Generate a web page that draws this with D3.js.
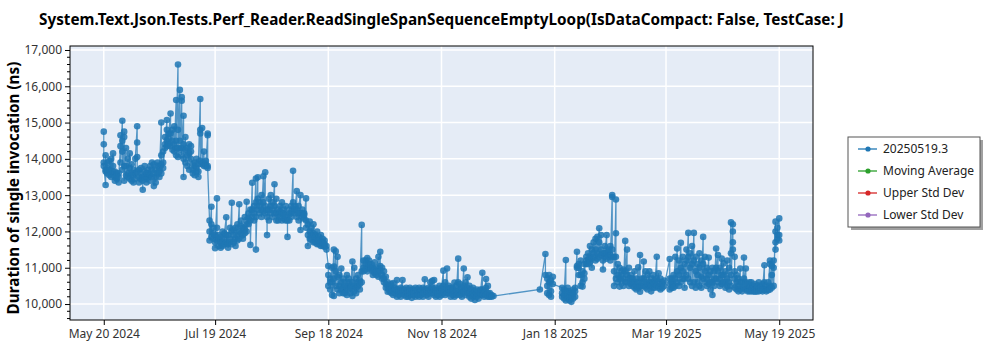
<!DOCTYPE html>
<html>
<head>
<meta charset="utf-8">
<script src="https://cdn.jsdelivr.net/npm/d3@7"></script>
<style>
  body { margin: 0; background: #fff; }
  svg { display: block; font-family: "Segoe UI", "Noto Sans", "Open Sans", sans-serif; }
</style>
</head>
<body>
<svg id="chart" width="1000" height="350"></svg>
<script>
// ---- chart text ----
const chartTitle = "System.Text.Json.Tests.Perf_Reader.ReadSingleSpanSequenceEmptyLoop(IsDataCompact: False, TestCase: J";
const yAxisTitle = "Duration of single invocation (ns)";

// ---- axis ticks ----
const xTickDates = ["2024-05-20", "2024-07-19", "2024-09-18", "2024-11-18", "2025-01-18", "2025-03-19", "2025-05-19"];
const yTickValues = [10000, 11000, 12000, 13000, 14000, 15000, 16000, 17000];

// ---- legend ----
const legendLabels = ["20250519.3", "Moving Average", "Upper Std Dev", "Lower Std Dev"];
const legendColors = ["#1f77b4", "#2ca02c", "#d62728", "#9467bd"];

// ---- run dates (one entry per day that has measurements) ----
const runDates = [
  // May 2024
  "2024-05-20","2024-05-21","2024-05-22","2024-05-23","2024-05-24","2024-05-25","2024-05-26","2024-05-27","2024-05-28","2024-05-29","2024-05-30","2024-05-31",
  // Jun 2024
  "2024-06-01","2024-06-02","2024-06-03","2024-06-04","2024-06-05","2024-06-06","2024-06-07","2024-06-08","2024-06-09","2024-06-10",
  "2024-06-11","2024-06-12","2024-06-13","2024-06-14","2024-06-15","2024-06-16","2024-06-17","2024-06-18","2024-06-19","2024-06-20",
  "2024-06-21","2024-06-22","2024-06-23","2024-06-24","2024-06-25","2024-06-26","2024-06-27","2024-06-28","2024-06-29","2024-06-30",
  // Jul 2024
  "2024-07-01","2024-07-02","2024-07-03","2024-07-04","2024-07-05","2024-07-06","2024-07-07","2024-07-08","2024-07-09","2024-07-10",
  "2024-07-11","2024-07-12","2024-07-13","2024-07-14","2024-07-15","2024-07-16","2024-07-17","2024-07-18","2024-07-19","2024-07-20",
  "2024-07-21","2024-07-22","2024-07-23","2024-07-24","2024-07-25","2024-07-26","2024-07-27","2024-07-28","2024-07-29","2024-07-30","2024-07-31",
  // Aug 2024
  "2024-08-01","2024-08-02","2024-08-03","2024-08-04","2024-08-05","2024-08-06","2024-08-07","2024-08-08","2024-08-09","2024-08-10",
  "2024-08-11","2024-08-12","2024-08-13","2024-08-14","2024-08-15","2024-08-16","2024-08-17","2024-08-18","2024-08-19","2024-08-20",
  "2024-08-21","2024-08-22","2024-08-23","2024-08-24","2024-08-25","2024-08-26","2024-08-27","2024-08-28","2024-08-29","2024-08-30","2024-08-31",
  // Sep 2024
  "2024-09-01","2024-09-02","2024-09-03","2024-09-04","2024-09-05","2024-09-06","2024-09-07","2024-09-08","2024-09-09","2024-09-10",
  "2024-09-11","2024-09-12","2024-09-13","2024-09-14","2024-09-15","2024-09-16","2024-09-17","2024-09-18","2024-09-19","2024-09-20",
  "2024-09-21","2024-09-22","2024-09-23","2024-09-24","2024-09-25","2024-09-26","2024-09-27","2024-09-28","2024-09-29","2024-09-30",
  // Oct 2024
  "2024-10-01","2024-10-02","2024-10-03","2024-10-04","2024-10-05","2024-10-06","2024-10-07","2024-10-08","2024-10-09","2024-10-10",
  "2024-10-11","2024-10-12","2024-10-13","2024-10-14","2024-10-15","2024-10-16","2024-10-17","2024-10-18","2024-10-19","2024-10-20",
  "2024-10-21","2024-10-22","2024-10-23","2024-10-24","2024-10-25","2024-10-26","2024-10-27","2024-10-28","2024-10-29","2024-10-30","2024-10-31",
  // Nov 2024
  "2024-11-01","2024-11-02","2024-11-03","2024-11-04","2024-11-05","2024-11-06","2024-11-07","2024-11-08","2024-11-09","2024-11-10",
  "2024-11-11","2024-11-12","2024-11-13","2024-11-14","2024-11-15","2024-11-16","2024-11-17","2024-11-18","2024-11-19","2024-11-20",
  "2024-11-21","2024-11-22","2024-11-23","2024-11-24","2024-11-25","2024-11-26","2024-11-27","2024-11-28","2024-11-29","2024-11-30",
  // Dec 2024
  "2024-12-01","2024-12-02","2024-12-03","2024-12-04","2024-12-05","2024-12-06","2024-12-07","2024-12-08","2024-12-09","2024-12-10",
  "2024-12-11","2024-12-12","2024-12-13","2024-12-14","2024-12-15","2024-12-16",
  // Jan 2025
  "2025-01-10","2025-01-13","2025-01-14","2025-01-15","2025-01-16","2025-01-17","2025-01-22","2025-01-23","2025-01-24","2025-01-25",
  "2025-01-26","2025-01-27","2025-01-28","2025-01-29","2025-01-30","2025-01-31",
  // Feb 2025
  "2025-02-01","2025-02-02","2025-02-03","2025-02-04","2025-02-05","2025-02-06","2025-02-07","2025-02-08","2025-02-09","2025-02-10",
  "2025-02-11","2025-02-12","2025-02-13","2025-02-14","2025-02-15","2025-02-16","2025-02-17","2025-02-18","2025-02-19","2025-02-20",
  "2025-02-21","2025-02-22","2025-02-23","2025-02-24","2025-02-25","2025-02-26","2025-02-27","2025-02-28",
  // Mar 2025
  "2025-03-01","2025-03-02","2025-03-03","2025-03-04","2025-03-05","2025-03-06","2025-03-07","2025-03-08","2025-03-09","2025-03-10",
  "2025-03-11","2025-03-12","2025-03-13","2025-03-14","2025-03-15","2025-03-16","2025-03-17","2025-03-18",
  "2025-03-21","2025-03-22","2025-03-23","2025-03-24","2025-03-25","2025-03-26","2025-03-27","2025-03-28","2025-03-29","2025-03-30","2025-03-31",
  // Apr 2025
  "2025-04-01","2025-04-02","2025-04-03","2025-04-04","2025-04-05","2025-04-06","2025-04-07","2025-04-08","2025-04-09","2025-04-10",
  "2025-04-11","2025-04-12","2025-04-13","2025-04-14","2025-04-15","2025-04-16","2025-04-17","2025-04-18","2025-04-19","2025-04-20",
  "2025-04-21","2025-04-22","2025-04-23","2025-04-24","2025-04-25","2025-04-26","2025-04-27","2025-04-28","2025-04-29","2025-04-30",
  // May 2025
  "2025-05-01","2025-05-02","2025-05-03","2025-05-04","2025-05-05","2025-05-06","2025-05-07","2025-05-08","2025-05-09","2025-05-10",
  "2025-05-11","2025-05-12","2025-05-13","2025-05-14","2025-05-15","2025-05-16","2025-05-17","2025-05-18","2025-05-19"
];

// ---- measured durations (ns), one list per run date, in run order ----
const runValues = [
  // May 2024
  [14750,14400,13900,13800],[13280,13650,14100,13700],[13900,13600,13750],[13700,13950,13550],[14000,13600,13500],[14150,13800,13650],
  [13500,13650,13400],[13600,13450,13550],[13350,13600,13500],[14350,14650,13900],[15050,14500,14200,13700],[14600,14750,13400,13800],
  // Jun 2024
  [14300,13800,13550],[14000,13600,13500],[14150,13450,13750],[13850,13600,13400],[13350,13700,13550],[13600,13450,14000],
  [14900,14450,14050,13650],[13700,13500,13350],[13600,13750,13450],[13500,13150,13400],
  [13650,13800,13500],[13450,13600,13350],[13500,13700,13600],[13800,13550,13400],[13700,13500,13900],[13600,13850,13250],
  [13700,13500,13350],[13800,13600,13900],[13750,13500,13650],[15000,14100,13850,13600],
  [13900,14200,13750],[14400,14600,14300],[15070,14500,14350,14800],[14550,14400,14700],[15250,14700,14350],[14800,14250,14500],
  [14900,14400,14200],[15620,14300,14100,14500],[16600,14800,14300,14050],[15900,14500,14250],
  // Jul 2024
  [15600,15700,14300,14100],[15190,14400,13500,14000],[14600,14250,13900],[14100,14300,13800],[14400,14150,13700],[14350,14200,14000],
  [13850,13600,13700],[13800,13550,13900],[13650,14000,13750],[13650,13500,13850],
  [15650,14800,14700,13950],[14850,13900,13850],[14200,13900,13800],[13950,13850,13800],[14700,14650,13800,13750],[12300,12000,11750],
  [12680,12200,11850],[12100,11800,11950],[11900,11540,11700],[12910,12100,11750],
  [11800,11600,11900],[11700,11550,11850],[12000,11700,11600],[11800,11650,11950],[12390,11900,11700],[11650,11550,11900],
  [12100,11800,11700],[12790,12000,11650],[11900,11700,12050],[12100,11800,11600],[12200,11900,11750],
  // Aug 2024
  [12750,12000,11800],[12150,11950,12300],[12100,11900,11800],[12400,12050,11950],[12820,12200,12000],[12500,12200,12350],
  [12600,12300,11630],[13340,12600,12400],[12700,12500,12300],[13460,12800,12400,11500],
  [13490,12900,12600],[12800,12500,12700],[13000,12600,12400],[13520,12800,12550],[13630,12700,12500],[12600,11900,12400],
  [12900,12600,12300],[13000,12500,12700],[12800,12400,12600],[13300,12700,12500],
  [12900,12500,12300],[12600,12300,12450],[12700,12400,12550],[12800,12500,12300],[12600,12350,12500],[12700,12450,12300],
  [12400,11850,12300],[12500,12300,12600],[12700,12500,12400],[13670,12800,12550],[12700,12500,12600],
  // Sep 2024
  [13110,12600,12400],[12500,12300,12700],[13000,12500,12040],[12600,12400,12500],[12500,12350,12450],[12910,12300,12100],
  [12200,11900,11600],[12270,12000,11800],[12100,11900,11750],[12200,11950,11700],
  [11900,11700,11850],[12000,11800,11650],[11850,11650,11750],[11900,11700,11600],[11800,11600,11700],[11750,11580,11650],
  [11600,11500],[11050,10800,10500],[10700,10400,10600],[11000,10600,10250],
  [11500,11030,10700,10220],[11450,10900,10500],[11300,10750,10400],[10800,10500,10300],[10980,10600,10400],[10700,10450,10300],
  [10500,10300,10600],[10800,10450,10250],[10600,10400,10700],[10500,10300,10450],
  // Oct 2024
  [11170,10600,10220],[11000,10500,10350],[10700,10450,10300],[10800,10500,10600],[10650,10400,10550],[12180,10900,10600],
  [11200,10900,11000],[11100,10950,11200],[11270,11050,10900],[11200,11000,11100],
  [11100,10950,11000],[11000,10900,10800],[11150,10950,10850],[11000,10800,10900],[11300,10900,10750],[11440,11050,10900],
  [11000,10800,10700],[10900,10600,10700],[10750,10450,10550],[10600,10340,10450],
  [10500,10350,10400],[10450,10300,10550],[10580,10350,10250],[10450,10300,10400],[10660,10400,10200],[10400,10250,10350],
  [10350,10200,10450],[10660,10400,10300],[10400,10250,10350],[10300,10200,10450],[10400,10300,10200],
  // Nov 2024
  [10450,10250,10350],[10300,10170,10400],[10400,10250,10300],[10350,10200,10450],[10300,10400,10250],[10450,10300,10200],
  [10350,10250,10400],[10450,10300,10200],[10680,10400,10300],[10400,10250,10350],
  [10300,10200,10450],[10600,10400,10300],[10640,10450,10300],[10660,10400,10250],[10350,10200,10450],[10400,10250,10300],
  [10500,10300,10200],[10350,10250,10450],[10920,10500,10300],[10600,10400,10250],
  [10980,10450,10300],[10500,10300,10400],[10350,10200,10450],[10450,10400,10250],[10590,10300,10200],[10500,10350,10250],
  [11250,10600,10300],[10550,10400,10250],[10450,10300,10200],[10980,10500,10350],
  // Dec 2024
  [10600,10400,10250],[10740,10450,10300],[10500,10300,10200],[10400,10250,10150],[10450,10300,10200],[10350,10110,10250],
  [10300,10200,10400],[10250,10150,10350],[10400,10250,10300],[10860,10400,10250],
  [10350,10200,10300],[10690,10450,10250],[10500,10300,10200],[10300,10200,10250],[10250,10200],[10220],
  // Jan 2025
  [10400],[11380,10800],[10700,10500,10300],[10800,10600,10250],[10650,10350,10200],[10750,10550],[10450,10300,10200],
  [10400,10250,10150],[11210,10350,10100],[10300,10150,10450],
  [10200,10100,10350],[10300,10060,10200],[10400,10150,10300],[10450,10200,10350],[11440,11050,11000],[11000,10800,11100],
  // Feb 2025
  [11200,10800,10500],[10900,10600,10480],[11100,10700,10850],[11300,11100,11200],[11400,11200,11100],[11600,11300,11150],
  [11500,11250,11000],[11700,11400,11300],[11800,11500,11200],[11850,11400,11250],
  [12090,11700,11300],[11900,11500,11350],[11400,11200,10950],[11600,11300,11400],[11900,11400,11250],[11500,11300,11450],
  [11600,11350,11200],[13000,12950,11500,11300],[11300,10900,10500],[12880,11950,11300,10700],
  [11100,10800,10600],[11000,10700,10480],[10900,10650,10800],[10950,10700,10500],[11740,10900,10600],[11500,10800,10600],
  [11000,10700,10500],[10800,10550,10700],
  // Mar 2025
  [10700,10500,10600],[10900,10600,10450],[10700,10500,10400],[11010,10600,10450],[11350,10500,10340],[10700,10500,10600],
  [11170,10700,10500],[10900,10600,10450],[10800,10550,10400],[10900,10600,10500],
  [10700,10500,10350],[10800,10600,10450],[10650,10450,10550],[11300,10700,10500],[10850,10600,10450],[10700,10500,10400],
  [10600,10450,10550],[10650,10500],
  [11240,10700,10550,10400],[10600,10450,10700],[10800,10550,10450],[11300,10700,10500],[11530,10900,10600],[11200,10800,10500],
  [11690,11000,10600],[11300,10900,10700],[11100,10700,10450],[11500,11200,10800],[11960,11300,10700],
  // Apr 2025
  [11400,11000,10600],[11600,11100,10500],[11960,11200,10600],[11300,10900,10450],[11100,10800,10600],[11400,11000,10500],
  [11200,10750,10450],[11850,11100,10700],[11300,10900,10600],[11000,10700,10500],
  [11280,10800,10550],[10900,10600,10400],[11000,10600,10250],[10900,10700,10500],[11530,11000,10700],[11350,10900,10600],
  [11000,10700,10500],[11250,10800,10550],[11120,10800,10600],[10900,10600,10450],
  [11200,10700,10500],[11000,10600,10400],[12250,11400,10800,10500],[12200,12000,11700,11500],[11300,10900,10700,10450],
  [10800,10600,10400],[10700,10500,10350],[10980,10600,10400],[10600,10450,10350],[11280,10700,10450],
  // May 2025
  [10980,10600,10400],[10550,10400,10350],[10500,10350,10600],[10600,10400,10350],[10500,10350,10450],[10550,10400,10340],
  [10450,10350,10500],[10600,10400,10350],[10500,10380,10450],[10550,10400,10350],
  [11070,10600,10400],[10500,10400,10350],[10600,10450,10380],[11200,11100,10500,10400],[11050,10800,10450],[11200,11000,10500],
  [12270,12000,11700,11500],[11900,11800,12100],[12360,11900,11750]
];

// ---- layout ----
const width = 1000, height = 350;
const plot = { left: 70, right: 813, top: 46, bottom: 320 };
const seriesColor = legendColors[0];

const parseDay = d3.utcParse("%Y-%m-%d");
const points = runDates.flatMap((d, i) => runValues[i].map(v => ({ date: parseDay(d), value: v })));

// time axis is padded by 5% of the data span on both sides
const [tMin, tMax] = d3.extent(points, p => p.date);
const pad = (tMax - tMin) * 0.05;
const x = d3.scaleUtc()
  .domain([new Date(+tMin - pad), new Date(+tMax + pad)])
  .range([plot.left, plot.right]);
const y = d3.scaleLinear()
  .domain([9560, 17110])
  .range([plot.bottom, plot.top]);

const svg = d3.select("#chart");

// plot background
svg.append("rect")
  .attr("x", plot.left).attr("y", plot.top)
  .attr("width", plot.right - plot.left).attr("height", plot.bottom - plot.top)
  .attr("fill", "#e5ecf6");

// gridlines
const grid = svg.append("g").attr("stroke", "#fff").attr("stroke-width", 1.5);
grid.selectAll("line.gy").data(yTickValues).join("line")
  .attr("x1", plot.left).attr("x2", plot.right)
  .attr("y1", d => y(d)).attr("y2", d => y(d));
const xTicks = xTickDates.map(parseDay);
grid.selectAll("line.gx").data(xTicks).join("line")
  .attr("y1", plot.top).attr("y2", plot.bottom)
  .attr("x1", d => x(d)).attr("x2", d => x(d));

// series
svg.append("clipPath").attr("id", "plot-clip")
  .append("rect")
  .attr("x", plot.left).attr("y", plot.top)
  .attr("width", plot.right - plot.left).attr("height", plot.bottom - plot.top);
const series = svg.append("g").attr("clip-path", "url(#plot-clip)");
series.append("path")
  .datum(points)
  .attr("fill", "none")
  .attr("stroke", seriesColor)
  .attr("stroke-width", 1.3)
  .attr("stroke-opacity", 0.75)
  .attr("d", d3.line().x(p => x(p.date)).y(p => y(p.value)));
series.selectAll("circle").data(points).join("circle")
  .attr("cx", p => x(p.date))
  .attr("cy", p => y(p.value))
  .attr("r", 3.3)
  .attr("fill", seriesColor)
  .attr("fill-opacity", 0.85);

// plot frame
svg.append("rect")
  .attr("x", plot.left).attr("y", plot.top)
  .attr("width", plot.right - plot.left).attr("height", plot.bottom - plot.top)
  .attr("fill", "none").attr("stroke", "#000").attr("stroke-width", 1);

// y axis: major + minor ticks
const yAxis = svg.append("g")
  .attr("transform", `translate(${plot.left},0)`)
  .call(d3.axisLeft(y).tickValues(yTickValues).tickFormat(d3.format(",")).tickSize(5).tickPadding(3));
const minorY = d3.range(9600, 17101, 200).filter(v => v % 1000 !== 0);
yAxis.selectAll("line.minor").data(minorY).join("line")
  .attr("class", "minor")
  .attr("x1", -3).attr("x2", 0)
  .attr("y1", d => y(d)).attr("y2", d => y(d))
  .attr("stroke", "#000");

// x axis
const xAxis = svg.append("g")
  .attr("transform", `translate(0,${plot.bottom})`)
  .call(d3.axisBottom(x).tickValues(xTicks).tickFormat(d3.utcFormat("%b %d %Y")).tickSize(5).tickPadding(4));

[yAxis, xAxis].forEach(g => {
  g.select(".domain").remove();
  g.selectAll(".tick line").attr("stroke", "#000");
  g.selectAll("text").attr("font-size", 12).attr("fill", "#333")
    .attr("font-family", "\"Segoe UI\", \"Noto Sans\", \"Open Sans\", sans-serif");
});

// title, fitted to the width it occupies
const title = svg.append("text")
  .attr("x", 39).attr("y", 25)
  .attr("font-weight", "bold").attr("font-size", 16).attr("fill", "#000")
  .text(chartTitle);
const titleW = title.node().getComputedTextLength();
title.attr("font-size", 16 * 806 / titleW);

// y axis title
const yTitle = svg.append("text")
  .attr("transform", `translate(19,${(plot.top + plot.bottom) / 2 + 5}) rotate(-90)`)
  .attr("text-anchor", "middle")
  .attr("font-weight", "bold").attr("font-size", 16).attr("fill", "#000")
  .text(yAxisTitle);
const yTitleW = yTitle.node().getComputedTextLength();
yTitle.attr("font-size", 16 * 253 / yTitleW);

// legend
const legend = svg.append("g").attr("transform", "translate(848,137)");
legend.append("rect")
  .attr("x", 3).attr("y", 3).attr("width", 132).attr("height", 90)
  .attr("fill", "#a0a0a0");
legend.append("rect")
  .attr("x", 0).attr("y", 0).attr("width", 132).attr("height", 90)
  .attr("fill", "#fff").attr("stroke", "#555").attr("stroke-width", 1);
const items = legend.selectAll("g.item").data(legendLabels).join("g")
  .attr("class", "item")
  .attr("transform", (d, i) => `translate(0,${12 + i * 22})`);
items.append("line")
  .attr("x1", 10).attr("x2", 29).attr("y1", 0).attr("y2", 0)
  .attr("stroke", (d, i) => legendColors[i]).attr("stroke-width", 1.3);
items.append("circle")
  .attr("cx", 20).attr("cy", 0).attr("r", 2.6)
  .attr("fill", (d, i) => legendColors[i]);
items.append("text")
  .attr("x", 35).attr("y", 4)
  .attr("font-size", 12).attr("fill", "#222")
  .text(d => d);
</script>
</body>
</html>
